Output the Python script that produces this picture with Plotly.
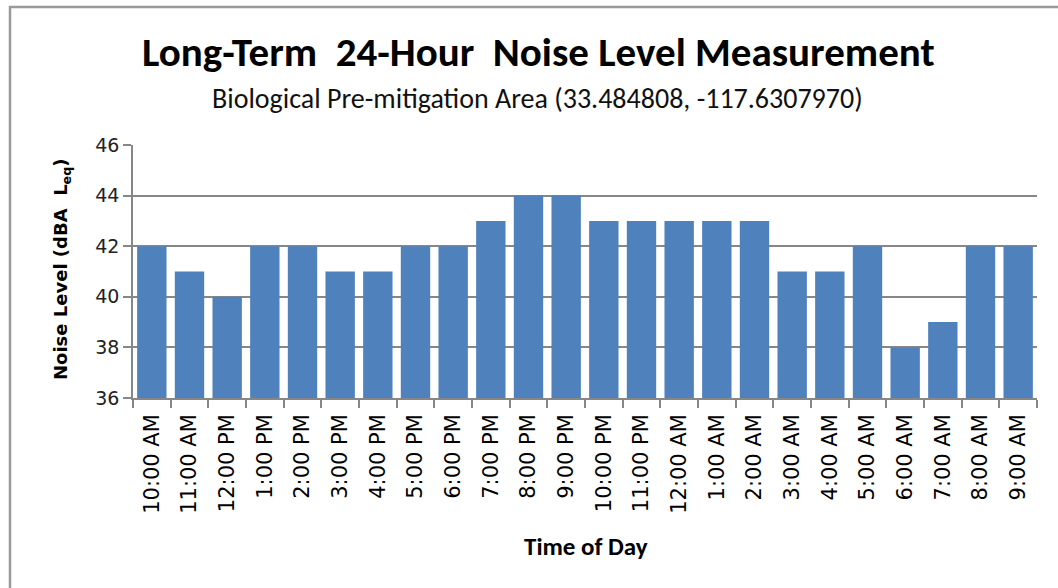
import plotly.graph_objects as go

categories = ["10:00 AM", "11:00 AM", "12:00 PM", "1:00 PM", "2:00 PM", "3:00 PM",
              "4:00 PM", "5:00 PM", "6:00 PM", "7:00 PM", "8:00 PM", "9:00 PM",
              "10:00 PM", "11:00 PM", "12:00 AM", "1:00 AM", "2:00 AM", "3:00 AM",
              "4:00 AM", "5:00 AM", "6:00 AM", "7:00 AM", "8:00 AM", "9:00 AM"]
noise_levels = [42, 41, 40, 42, 42, 41, 41, 42, 42, 43, 44, 44,
                43, 43, 43, 43, 43, 41, 41, 42, 38, 39, 42, 42]
y_ticks = [36, 38, 40, 42, 44, 46]

title_text = "Long-Term  24-Hour  Noise Level Measurement"
subtitle_text = "Biological Pre-mitigation Area (33.484808, -117.6307970)"

W, H = 1058, 588
L, R, T, B = 133, 21, 145, 190
pw, ph = W - L - R, H - T - B

def px(x):
    return (x - L) / pw

def py(y):
    return (H - B - y) / ph

fig = go.Figure(go.Bar(x=categories, y=noise_levels, marker_color="#4F81BD",
                       marker_line_width=0, width=0.78))

grid = "#878787"
fig.update_layout(
    width=W, height=H, margin=dict(l=L, r=R, t=T, b=B),
    paper_bgcolor="white", plot_bgcolor="white", showlegend=False,
    xaxis=dict(type="category", tickson="boundaries", ticks="outside", ticklen=8,
               tickcolor=grid, tickwidth=1.5, showline=True, linecolor=grid, linewidth=1.5,
               showgrid=False, tickangle=-90, ticklabelstandoff=6,
               tickfont=dict(family="DejaVu Sans", size=21, color="#000")),
    yaxis=dict(range=[36, 46], tickvals=y_ticks, ticks="outside", ticklen=8,
               tickcolor=grid, tickwidth=1.5, showline=True, linecolor=grid, linewidth=1.5,
               showgrid=True, gridcolor=grid, gridwidth=1.5, zeroline=False,
               tickfont=dict(family="DejaVu Sans", size=19, color="#222")),
    annotations=[
        dict(text="<b>" + title_text + "</b>", xref="paper", yref="paper",
             x=px(538), y=py(52), xanchor="center", yanchor="middle", showarrow=False,
             font=dict(family="Carlito, Lato, sans-serif", size=41, color="#000")),
        dict(text=subtitle_text, xref="paper", yref="paper",
             x=px(537), y=py(98), xanchor="center", yanchor="middle", showarrow=False,
             font=dict(family="Carlito, Lato, sans-serif", size=28, color="#111")),
        dict(text="<b>Noise Level (dBA  L<sub>eq</sub>)</b>", xref="paper", yref="paper",
             x=px(62), y=py(270), xanchor="center", yanchor="middle", showarrow=False,
             textangle=-90,
             font=dict(family="DejaVu Sans", size=18, color="#000")),
        dict(text="<b>Time of Day</b>", xref="paper", yref="paper",
             x=px(586), y=py(546), xanchor="center", yanchor="middle", showarrow=False,
             font=dict(family="Carlito, Lato, sans-serif", size=25, color="#000")),
    ],
    shapes=[
        dict(type="rect", xref="paper", yref="paper", x0=px(10), x1=px(1080),
             y0=py(7), y1=py(620), line=dict(color="#9a9a9a", width=2.5),
             fillcolor="rgba(0,0,0,0)", layer="below"),
    ],
)

fig.write_html("out.html", config={"displayModeBar": False},
               post_script="document.body.style.margin='0';document.body.style.overflow='hidden';")
